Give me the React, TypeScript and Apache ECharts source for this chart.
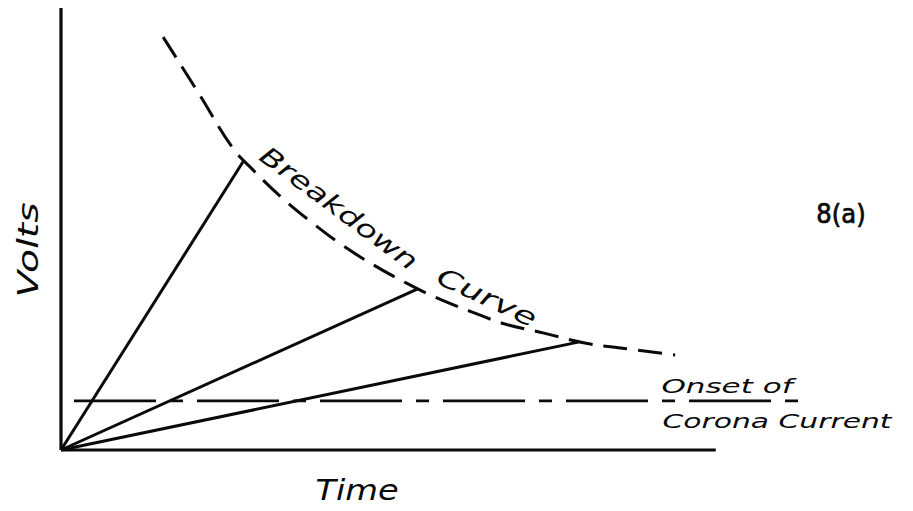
import React, { useEffect, useRef } from "react";
import * as echarts from "echarts";

// Axis lines (data units: time 0..100 along the drawn axis, volts 0..100)
const yAxisLine: number[][] = [[0, 0], [0, 100]];
const xAxisLine: number[][] = [[0, 0], [100, 0]];

// Voltage ramps from the origin to breakdown
const rayEnds: number[][] = [[27.8, 65.2], [54.4, 36.4], [79.0, 24.4]];

// Breakdown curve (dashed)
const breakdownCurve: number[][] = [
  [15.6, 93.4], [21.2, 80.3], [26.1, 68.6], [29.5, 63.1], [33.8, 57.0],
  [38.2, 51.6], [42.9, 46.4], [47.7, 41.9], [52.7, 37.8], [57.4, 34.4],
  [62.8, 31.2], [67.8, 28.5], [73.6, 26.5], [80.0, 24.2], [85.4, 23.1],
  [93.8, 21.5],
];

// Onset of corona current level
const coronaOnsetLevel = 11.1;
const coronaOnsetExtent: number[] = [0, 114.1];

const labels = {
  volts: "Volts",
  time: "Time",
  breakdown: "Breakdown",
  curve: "Curve",
  figure: "8(a)",
  onset1: "Onset of",
  onset2: "Corona Current",
};

const INK = "#0a0a0a";
const deg = (d: number) => (d * Math.PI) / 180;

function txt(text: string, x: number, y: number, size: number, opts: any = {}) {
  const style: any = {
    text,
    fill: INK,
    fontSize: size,
    fontFamily: opts.family ?? "DejaVu Sans",
    fontStyle: opts.italic === false ? "normal" : "italic",
    fontWeight: opts.weight ?? "normal",
    align: "center",
    verticalAlign: "middle",
    textAlign: "center",
    textVerticalAlign: "middle",
  };
  if (opts.strokeWidth) {
    style.stroke = INK;
    style.lineWidth = opts.strokeWidth;
  }
  return {
    type: "text",
    x,
    y,
    rotation: opts.rotation ?? 0,
    scaleX: opts.scaleX ?? 1,
    silent: true,
    style,
  };
}

export default function App() {
  const ref = useRef<HTMLDivElement>(null);

  useEffect(() => {
    if (!ref.current) return;
    const chart = echarts.init(ref.current, undefined, { renderer: "svg" });

    const lineBase = {
      type: "line",
      symbol: "none",
      silent: true,
      clip: false,
      z: 2,
    };

    const raySeries = rayEnds.map((end, i) => ({
      ...lineBase,
      name: `ramp${i + 1}`,
      data: [[0, 0], end],
      lineStyle: { color: INK, width: 3 },
    }));

    chart.setOption({
      animation: false,
      backgroundColor: "#ffffff",
      grid: { left: 61, right: 99, top: 8, bottom: 61 },
      xAxis: {
        type: "value",
        min: 0,
        max: 115,
        show: false,
      },
      yAxis: {
        type: "value",
        min: 0,
        max: 100,
        show: false,
      },
      series: [
        {
          ...lineBase,
          name: "yAxis",
          data: yAxisLine,
          lineStyle: { color: INK, width: 3.2 },
        },
        {
          ...lineBase,
          name: "xAxis",
          data: xAxisLine,
          lineStyle: { color: INK, width: 3.2 },
        },
        ...raySeries,
        {
          ...lineBase,
          name: "Breakdown Curve",
          data: breakdownCurve,
          smooth: 0.4,
          lineStyle: { color: INK, width: 3, type: [24, 11], dashOffset: 0 },
        },
        {
          ...lineBase,
          name: "Onset of Corona Current",
          data: coronaOnsetExtent.map((x) => [x, coronaOnsetLevel]),
          lineStyle: {
            color: INK,
            width: 2.8,
            type: [82, 14, 13, 14],
            dashOffset: 110,
          },
        },
      ],
      graphic: [
        txt(labels.volts, 28, 250, 28, { rotation: deg(90), scaleX: 1.4 }),
        txt(labels.time, 357, 490, 28, { scaleX: 1.2 }),
        txt(labels.breakdown, 339, 208, 25, { rotation: deg(-36.5), scaleX: 1.35 }),
        txt(labels.curve, 487, 297, 25, { rotation: deg(-25), scaleX: 1.45 }),
        txt(labels.figure, 841, 213, 27, {
          italic: false,
          strokeWidth: 0.7,
          family: '"DejaVu Sans Condensed", "DejaVu Sans"',
        }),
        txt(labels.onset1, 727, 386, 20, { scaleX: 1.55 }),
        txt(labels.onset2, 777, 421, 20, { scaleX: 1.49 }),
      ],
    });

    return () => chart.dispose();
  }, []);

  return (
    <div
      ref={ref}
      style={{ position: "fixed", left: 0, top: 0, width: 913, height: 511, background: "#fff" }}
    />
  );
}
